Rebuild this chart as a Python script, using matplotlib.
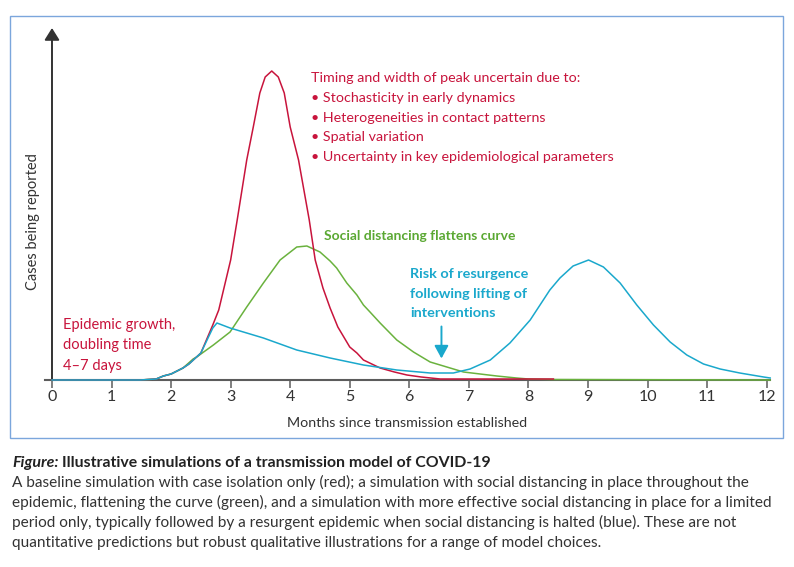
import matplotlib
matplotlib.use("Agg")
import matplotlib.pyplot as plt
from matplotlib.patches import Rectangle

# ---------------- data ----------------
red_months = [0, 1.0, 1.48, 1.75, 1.87, 2.0, 2.2, 2.3, 2.5, 2.7, 2.8, 3.0, 3.11, 3.27,
              3.38, 3.49, 3.58, 3.69, 3.8, 3.9, 4.0, 4.14, 4.32, 4.42, 4.55, 4.67,
              4.8, 5.0, 5.12, 5.23, 5.51, 5.75, 5.96, 6.2, 6.52, 7.0, 8.42]
red_cases = [0, 0, 0, 1, 4, 6, 12, 16, 27, 55, 70, 120, 160, 220,
             253, 287, 303, 309, 303, 287, 253, 220, 160, 120, 92, 72,
             53, 33, 27, 20, 12, 8, 5, 3, 1, 1, 1]

green_months = [0, 1.48, 1.75, 1.87, 2.0, 2.2, 2.37, 2.43, 2.71, 2.99, 3.27, 3.55, 3.83,
                4.11, 4.28, 4.5, 4.67, 4.78, 4.95, 5.12, 5.23, 5.34, 5.51, 5.79, 6.07,
                6.35, 6.63, 6.91, 7.19, 7.47, 7.8, 8.0, 8.42, 12.06]
green_cases = [0, 0, 1, 4, 6, 12, 21, 23, 35, 48, 73, 97, 120,
               133, 134, 128, 119, 112, 97, 85, 75, 68, 57, 40, 28,
               18, 13, 8, 6, 4, 2, 1, 0.5, 0]

blue_months = [0, 1.48, 1.75, 1.87, 2.0, 2.2, 2.3, 2.5, 2.7, 2.77, 2.99, 3.55, 4.11,
               4.67, 5.23, 5.79, 6.35, 6.74, 7.02, 7.36, 7.69, 8.03, 8.36, 8.53, 8.75,
               9.01, 9.26, 9.54, 9.82, 10.1, 10.38, 10.66, 10.94, 11.22, 11.55, 11.95, 12.06]
blue_cases = [0, 0, 1, 4, 6, 12, 16, 27, 52, 57, 52, 42, 30,
              22, 15, 10, 7, 7, 11, 20, 37, 60, 90, 102, 114,
              120, 113, 97, 75, 55, 38, 25, 16, 11, 7, 3, 2]

month_ticks = list(range(13))

# ---------------- style ----------------
RED = "#c8143c"
GREEN = "#6ab23e"
GREEN_TXT = "#5aa832"
BLUE = "#1aa8cc"
AXIS = "#5c5c5c"
FONT = ["Lato", "DejaVu Sans"]
plt.rcParams["font.family"] = FONT

W, H = 794, 567
fig = plt.figure(figsize=(W / 100, H / 100), dpi=100)
ax = fig.add_axes([45 / W, (H - 380) / H, 725 / W, 352 / H])
ax.set_xlim(-0.1175, 12.057)
ax.set_ylim(0, 352)
ax.set_facecolor("none")

for s in ("left", "top", "right"):
    ax.spines[s].set_visible(False)
ax.spines["bottom"].set_color(AXIS)
ax.spines["bottom"].set_linewidth(1.5)
ax.spines["bottom"].set_zorder(1)

ax.set_xticks(month_ticks)
ax.set_xticklabels([str(m) for m in month_ticks])
ax.set_yticks([])
ax.tick_params(axis="x", direction="out", length=5.5, width=1.1, color=AXIS,
               labelsize=11.5, labelcolor="#333333", pad=1.5)

# y-axis arrow
ax.annotate("", xy=(0, 352), xytext=(0, 0), xycoords="data",
            arrowprops=dict(arrowstyle="-|>,head_length=0.72,head_width=0.45",
                            mutation_scale=10, color="#333333", lw=1.4,
                            shrinkA=0, shrinkB=0), annotation_clip=False)

# curves
ax.plot(green_months, green_cases, color=GREEN, lw=1.1, zorder=3, clip_on=False)
ax.plot(red_months, red_cases, color=RED, lw=1.1, zorder=4, clip_on=False)
ax.plot(blue_months, blue_cases, color=BLUE, lw=1.1, zorder=5, clip_on=False)

# annotations
ax.text(4.35, 308,
        "Timing and width of peak uncertain due to:\n"
        "\u2022 Stochasticity in early dynamics\n"
        "\u2022 Heterogeneities in contact patterns\n"
        "\u2022 Spatial variation\n"
        "\u2022 Uncertainty in key epidemiological parameters",
        color=RED, fontsize=10.3, ha="left", va="top", linespacing=1.78)
ax.text(4.567, 139.5, "Social distancing flattens curve", color=GREEN_TXT,
        fontsize=10.0, fontweight="bold", ha="left", va="baseline")
ax.text(6.02, 112, "Risk of resurgence\nfollowing lifting of\ninterventions",
        color=BLUE, fontsize=10.4, fontweight="bold", ha="left", va="top",
        linespacing=1.76)
ax.text(0.185, 62, "Epidemic growth,\ndoubling time\n4\u20137 days",
        color=RED, fontsize=10.5, ha="left", va="top", linespacing=1.58)
ax.annotate("", xy=(6.54, 21.5), xytext=(6.54, 53.5),
            arrowprops=dict(arrowstyle="-|>,head_length=1.1,head_width=0.6",
                            mutation_scale=7, color=BLUE, lw=1.4,
                            shrinkA=0, shrinkB=0))

ax.text(-0.324, 158, "Cases being reported", rotation=90, ha="center", va="center",
        fontsize=10.5, color="#333333")
ax.text(5.97, -47, "Months since transmission established", ha="center",
        va="baseline", fontsize=10.3, color="#333333")

# frame
fig.add_artist(Rectangle((10 / W, (H - 438) / H), 773 / W, 422 / H,
                         transform=fig.transFigure, fill=False,
                         ec="#7ba6dc", lw=1.0))

# caption
renderer = fig.canvas.get_renderer()
t1 = fig.text(12 / W, (H - 466.7) / H, "Figure:", fontsize=11.5, fontweight="bold",
              fontstyle="italic", color="#222222", va="baseline")
w1 = t1.get_window_extent(renderer).width
fig.text((12 + w1 + 3) / W, (H - 466.7) / H,
         "Illustrative simulations of a transmission model of COVID-19",
         fontsize=11.4, fontweight="bold", color="#222222", va="baseline")
caption_lines = [
    "A baseline simulation with case isolation only (red); a simulation with social distancing in place throughout the",
    "epidemic, flattening the curve (green), and a simulation with more effective social distancing in place for a limited",
    "period only, typically followed by a resurgent epidemic when social distancing is halted (blue). These are not",
    "quantitative predictions but robust qualitative illustrations for a range of model choices.",
]
for i, line in enumerate(caption_lines):
    fig.text(12 / W, (H - 486.7 - 20.2 * i) / H, line, fontsize=11.1,
             color="#333333", va="baseline")

fig.savefig("out.png", dpi=100)
